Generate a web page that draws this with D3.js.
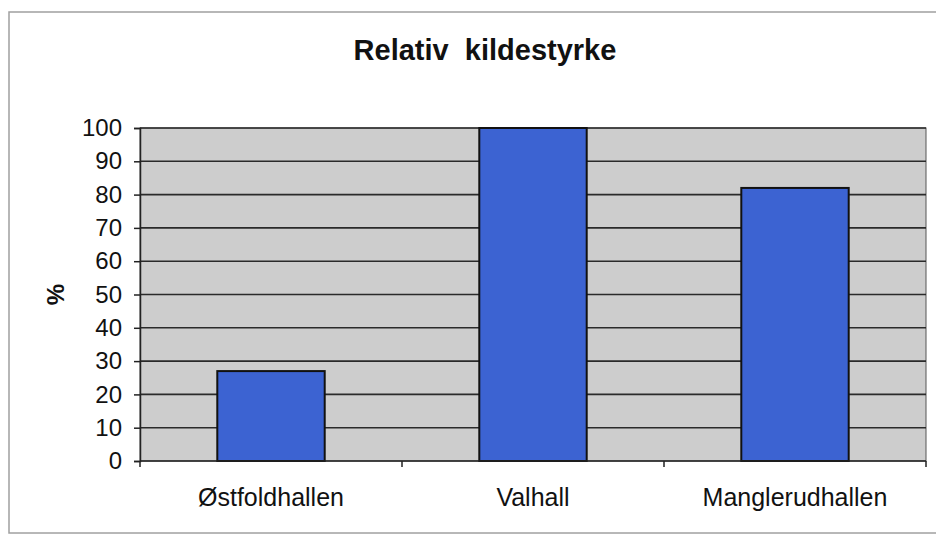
<!DOCTYPE html>
<html lang="en">
<head>
<meta charset="UTF-8">
<title>Relativ kildestyrke</title>
<script src="https://cdn.jsdelivr.net/npm/d3@7"></script>
<style>
  body { margin: 0; background: #fff; }
  text { font-family: Arial, "Liberation Sans", sans-serif; }
</style>
</head>
<body>
<script>
const categories = ['Østfoldhallen', 'Valhall', 'Manglerudhallen'];
const values = [27, 100, 82];
const yTicks = [0, 10, 20, 30, 40, 50, 60, 70, 80, 90, 100];

const width = 936, height = 535;
const plot = { left: 140, right: 926, top: 128, bottom: 461 };

const svg = d3.select('body').append('svg')
  .attr('width', width)
  .attr('height', height);

// outer frame
svg.append('rect')
  .attr('x', 9).attr('y', 12)
  .attr('width', 940).attr('height', 521)
  .attr('fill', '#fff')
  .attr('stroke', '#a0a0a0')
  .attr('stroke-width', 1.5);

const x = d3.scaleBand()
  .domain(categories)
  .range([plot.left, plot.right])
  .paddingInner(0.59)
  .paddingOuter(0.295);

const xOuter = d3.scaleBand()
  .domain(categories)
  .range([plot.left, plot.right]);

const y = d3.scaleLinear()
  .domain([0, 100])
  .range([plot.bottom, plot.top]);

// plot background
svg.append('rect')
  .attr('x', plot.left).attr('y', plot.top)
  .attr('width', plot.right - plot.left)
  .attr('height', plot.bottom - plot.top)
  .attr('fill', '#cdcdcd')
  .attr('stroke', '#555')
  .attr('stroke-width', 1);

// gridlines
svg.append('g')
  .selectAll('line')
  .data(yTicks.filter(d => d > 0))
  .enter()
  .append('line')
  .attr('x1', plot.left).attr('x2', plot.right)
  .attr('y1', d => y(d)).attr('y2', d => y(d))
  .attr('stroke', '#2a2a2a')
  .attr('stroke-width', 1.6);

// bars
svg.append('g')
  .selectAll('rect')
  .data(values)
  .enter()
  .append('rect')
  .attr('x', (d, i) => x(categories[i]))
  .attr('y', d => y(d))
  .attr('width', x.bandwidth())
  .attr('height', d => y(0) - y(d))
  .attr('fill', '#3c63d2')
  .attr('stroke', '#111')
  .attr('stroke-width', 2);

// y axis
const yAxis = d3.axisLeft(y)
  .tickValues(yTicks)
  .tickSize(6)
  .tickPadding(12);

const gy = svg.append('g')
  .attr('transform', `translate(${plot.left},0)`)
  .call(yAxis);
gy.select('.domain').attr('stroke', '#222').attr('stroke-width', 1.5);
gy.selectAll('.tick line').attr('stroke', '#222').attr('stroke-width', 1.5);
gy.selectAll('.tick text')
  .attr('font-size', 24)
  .attr('fill', '#111')
  .style('font-family', 'Arial, "Liberation Sans", sans-serif');

// x axis
const gx = svg.append('g')
  .attr('transform', `translate(0,${plot.bottom})`);
gx.append('line')
  .attr('x1', plot.left).attr('x2', plot.right)
  .attr('stroke', '#222').attr('stroke-width', 1.5);
gx.selectAll('.sep')
  .data(categories)
  .enter()
  .append('line')
  .attr('x1', d => xOuter(d)).attr('x2', d => xOuter(d))
  .attr('y1', 0).attr('y2', 6)
  .attr('stroke', '#222').attr('stroke-width', 1.5);
gx.append('line')
  .attr('x1', plot.right).attr('x2', plot.right)
  .attr('y1', 0).attr('y2', 6)
  .attr('stroke', '#222').attr('stroke-width', 1.5);
gx.selectAll('.lab')
  .data(categories)
  .enter()
  .append('text')
  .attr('x', d => xOuter(d) + xOuter.bandwidth() / 2)
  .attr('y', 45)
  .attr('text-anchor', 'middle')
  .attr('font-size', 25)
  .attr('fill', '#111')
  .text(d => d);

// title
svg.append('text')
  .attr('x', 485).attr('y', 60)
  .attr('text-anchor', 'middle')
  .attr('font-size', 29)
  .attr('font-weight', 'bold')
  .attr('fill', '#111')
  .style('white-space', 'pre')
  .text('Relativ  kildestyrke');

// y label
svg.append('text')
  .attr('transform', `translate(64,${(plot.top + plot.bottom) / 2}) rotate(-90)`)
  .attr('text-anchor', 'middle')
  .attr('font-size', 24)
  .attr('font-weight', 'bold')
  .attr('fill', '#111')
  .text('%');
</script>
</body>
</html>
